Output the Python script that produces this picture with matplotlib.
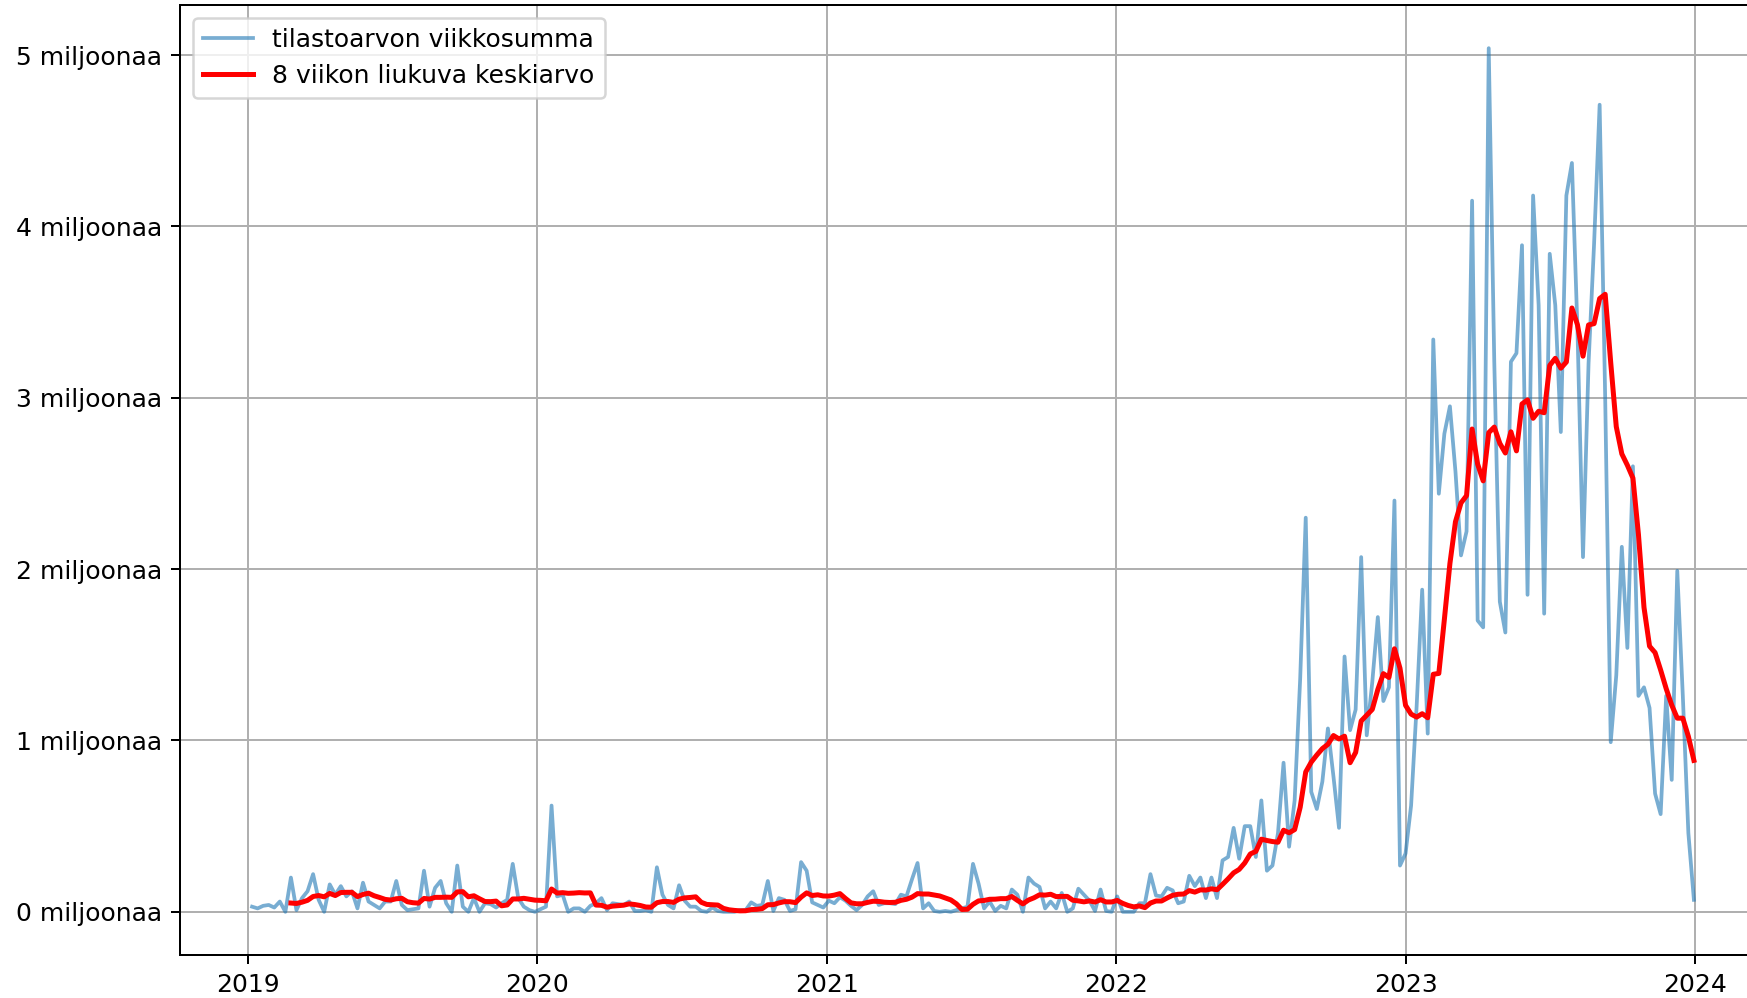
import numpy as np
import pandas as pd
import matplotlib
matplotlib.use("Agg")
import matplotlib.pyplot as plt
import matplotlib.dates as mdates
import matplotlib.ticker as mticker

# viikkosummat (miljoonaa), viikot 2019-01-06 ... 2023-12-31
start_week = "2019-01-06"
weekly_sum = [
    0.03, 0.02, 0.035, 0.04, 0.025, 0.06, 0.0, 0.20, 0.01, 0.08,
    0.12, 0.22, 0.07, 0.0, 0.16, 0.10, 0.15, 0.09, 0.12, 0.02,
    0.17, 0.06, 0.04, 0.02, 0.06, 0.06, 0.18, 0.04, 0.01, 0.015,
    0.02, 0.24, 0.03, 0.14, 0.18, 0.05, 0.0, 0.27, 0.03, 0.0,
    0.08, 0.0, 0.05, 0.045, 0.025, 0.05, 0.07, 0.28, 0.08, 0.03,
    0.01, 0.0, 0.015, 0.03, 0.62, 0.09, 0.10, 0.0, 0.02, 0.02,
    0.0, 0.035, 0.05, 0.08, 0.01, 0.05, 0.045, 0.04, 0.06, 0.005,
    0.005, 0.01, 0.0, 0.26, 0.10, 0.04, 0.02, 0.155, 0.065, 0.03,
    0.03, 0.005, 0.0, 0.025, 0.005, 0.0, 0.0, 0.0, 0.01, 0.01,
    0.055, 0.035, 0.04, 0.18, 0.005, 0.08, 0.07, 0.005, 0.015, 0.29,
    0.24, 0.055, 0.04, 0.025, 0.065, 0.05, 0.085, 0.065, 0.035, 0.01,
    0.04, 0.09, 0.12, 0.04, 0.05, 0.05, 0.045, 0.10, 0.09, 0.19,
    0.285, 0.02, 0.05, 0.005, 0.0, 0.005, 0.0, 0.01, 0.02, 0.03,
    0.28, 0.165, 0.02, 0.06, 0.005, 0.035, 0.02, 0.13, 0.10, 0.0,
    0.20, 0.165, 0.145, 0.02, 0.06, 0.02, 0.11, 0.0, 0.02, 0.135,
    0.10, 0.065, 0.005, 0.13, 0.005, 0.0, 0.09, 0.0, 0.0, 0.0,
    0.05, 0.05, 0.22, 0.095, 0.09, 0.14, 0.125, 0.05, 0.06, 0.21,
    0.15, 0.20, 0.08, 0.20, 0.08, 0.30, 0.32, 0.49, 0.31, 0.50,
    0.50, 0.32, 0.65, 0.24, 0.27, 0.46, 0.87, 0.38, 0.65, 1.36,
    2.30, 0.70, 0.60, 0.76, 1.07, 0.79, 0.49, 1.49, 1.06, 1.18,
    2.07, 1.03, 1.34, 1.72, 1.23, 1.31, 2.40, 0.27, 0.34, 0.62,
    1.20, 1.88, 1.04, 3.34, 2.44, 2.79, 2.95, 2.57, 2.08, 2.22,
    4.15, 1.70, 1.66, 5.04, 3.21, 1.81, 1.63, 3.21, 3.26, 3.89,
    1.85, 4.18, 3.54, 1.74, 3.84, 3.54, 2.80, 4.18, 4.37, 3.40,
    2.07, 3.20, 3.90, 4.71, 3.00, 0.99, 1.38, 2.13, 1.54, 2.60,
    1.26, 1.31, 1.19, 0.69, 0.57, 1.26, 0.77, 1.99, 1.26, 0.46,
    0.07,
]
window = 8

DPI = 180
dates = pd.date_range(start_week, periods=len(weekly_sum), freq="7D")
s = pd.Series(weekly_sum, index=dates)
rolling = s.rolling(window).mean()

fig = plt.figure(figsize=(1747 / DPI, 998 / DPI), dpi=DPI)
ax = fig.add_axes([180 / 1747, 43 / 998, 1586 / 1747, 950 / 998])

ax.plot(s.index, s.values, color="C0", alpha=0.6,
        label="tilastoarvon viikkosumma")
ax.plot(rolling.index, rolling.values, color="red", lw=2,
        label="8 viikon liukuva keskiarvo")

ax.xaxis.set_major_locator(mdates.YearLocator())
ax.xaxis.set_major_formatter(mdates.DateFormatter("%Y"))
ax.yaxis.set_major_locator(mticker.MultipleLocator(1))
ax.yaxis.set_major_formatter(mticker.FuncFormatter(lambda v, p: f"{v:.0f} miljoonaa"))
ax.grid(True)
ax.legend(loc="upper left")

fig.savefig("out.png", dpi=DPI)
